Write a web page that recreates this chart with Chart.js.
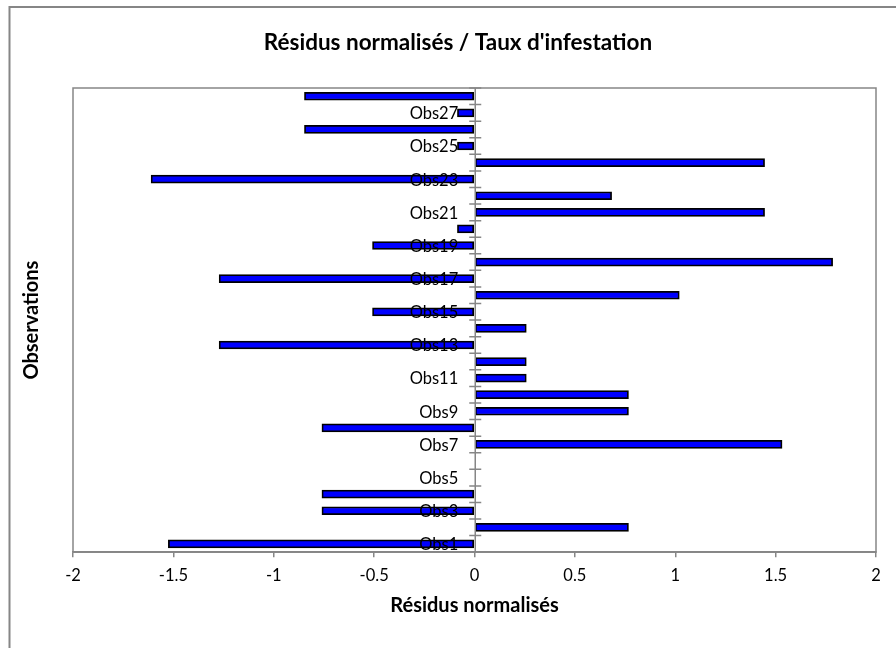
<!DOCTYPE html>
<html>
<head>
<meta charset="utf-8">
<script src="https://cdn.jsdelivr.net/npm/chart.js@4/dist/chart.umd.min.js"></script>
<style>
  html, body { margin: 0; padding: 0; background: #ffffff; }
  #wrap { width: 896px; height: 648px; position: relative; }
</style>
</head>
<body>
<div id="wrap"><canvas id="chart" width="896" height="648"></canvas></div>
<script>
// Observations, bottom to top
const observations = [
  'Obs1', 'Obs2', 'Obs3', 'Obs4', 'Obs5', 'Obs6', 'Obs7',
  'Obs8', 'Obs9', 'Obs10', 'Obs11', 'Obs12', 'Obs13', 'Obs14',
  'Obs15', 'Obs16', 'Obs17', 'Obs18', 'Obs19', 'Obs20', 'Obs21',
  'Obs22', 'Obs23', 'Obs24', 'Obs25', 'Obs26', 'Obs27', 'Obs28'
];

// Standardised residuals of the infestation-rate model
const residus = [
  -1.525, 0.767, -0.760, -0.760, 0, 0, 1.532,
  -0.760, 0.767, 0.767, 0.258, 0.258, -1.272, 0.258,
  -0.508, 1.020, -1.272, 1.784, -0.508, -0.085, 1.445,
  0.683, -1.611, 1.445, -0.085, -0.847, -0.085, -0.847
];

// Horizontal axis range and step
const xMin = -2;
const xMax = 2;
const xStep = 0.5;

const titre = "Résidus normalisés / Taux d'infestation";
const titreX = 'Résidus normalisés';
const titreY = 'Observations';

const FONT = 'Lato, "Open Sans", sans-serif';
const AXIS_GREY = '#868686';
const LABEL_SIZE = 16.5;

// Outer chart border, plot frame and the three titles
const decorPlugin = {
  id: 'decor',
  beforeDraw(chart) {
    const ctx = chart.ctx;
    const a = chart.chartArea;
    ctx.save();
    ctx.strokeStyle = AXIS_GREY;
    ctx.lineWidth = 2;
    ctx.strokeRect(9.5, 7, 1000, 1000);
    ctx.lineWidth = 1.5;
    ctx.strokeRect(a.left, a.top, a.right - a.left, a.bottom - a.top);

    ctx.fillStyle = '#000000';
    ctx.textAlign = 'center';
    ctx.textBaseline = 'middle';
    ctx.font = 'bold 22.5px ' + FONT;
    ctx.fillText(titre, 458, 43);
    ctx.font = 'bold 20px ' + FONT;
    ctx.fillText(titreX, (a.left + a.right) / 2, 606);
    ctx.translate(32, (a.top + a.bottom) / 2);
    ctx.rotate(-Math.PI / 2);
    ctx.fillText(titreY, 0, 0);
    ctx.restore();
  }
};

// Vertical axis through zero, cross tick marks between categories,
// and the category labels (every other one) to the left of it
const zeroAxisPlugin = {
  id: 'zeroAxis',
  afterDatasetsDraw(chart) {
    const ctx = chart.ctx;
    const xs = chart.scales.x;
    const ys = chart.scales.y;
    const x0 = Math.round(xs.getPixelForValue(0)) + 0.25;
    const half = Math.abs(ys.getPixelForValue(1) - ys.getPixelForValue(0)) / 2;
    ctx.save();
    ctx.strokeStyle = AXIS_GREY;
    ctx.lineWidth = 1.5;
    ctx.beginPath();
    ctx.moveTo(x0, chart.chartArea.top);
    ctx.lineTo(x0, chart.chartArea.bottom);
    for (let i = 0; i < observations.length; i++) {
      const yb = ys.getPixelForValue(i) - half;
      ctx.moveTo(x0 - 6, yb);
      ctx.lineTo(x0 + 6, yb);
    }
    ctx.stroke();

    ctx.fillStyle = '#000000';
    ctx.font = LABEL_SIZE + 'px ' + FONT;
    ctx.textAlign = 'right';
    ctx.textBaseline = 'middle';
    for (let i = 0; i < observations.length; i += 2) {
      ctx.fillText(observations[i], x0 - 17, ys.getPixelForValue(i) + 1);
    }
    ctx.restore();
  }
};

new Chart(document.getElementById('chart'), {
  type: 'bar',
  data: {
    labels: observations,
    datasets: [{
      label: titreX,
      data: residus,
      backgroundColor: '#0000ff',
      borderColor: '#000000',
      borderWidth: 1.75,
      borderSkipped: false,
      barThickness: 8
    }]
  },
  plugins: [decorPlugin, zeroAxisPlugin],
  options: {
    indexAxis: 'y',
    responsive: false,
    animation: false,
    layout: { padding: { left: 73, right: 20, top: 88, bottom: 53 } },
    plugins: {
      legend: { display: false },
      title: { display: false },
      tooltip: { enabled: false }
    },
    scales: {
      x: {
        type: 'linear',
        min: xMin,
        max: xMax,
        ticks: {
          stepSize: xStep,
          color: '#000000',
          font: { family: FONT, size: LABEL_SIZE },
          padding: 9,
          callback: (v) => String(Math.round(v * 10) / 10)
        },
        grid: {
          display: true,
          drawOnChartArea: false,
          drawTicks: true,
          tickLength: 5,
          color: AXIS_GREY,
          lineWidth: 1.5
        },
        border: { display: true, color: AXIS_GREY, width: 1.5 }
      },
      y: {
        type: 'category',
        reverse: true,
        position: { x: 0 },
        grid: { display: false, drawTicks: false },
        border: { display: false },
        ticks: { display: false, autoSkip: false }
      }
    }
  }
});
</script>
</body>
</html>
